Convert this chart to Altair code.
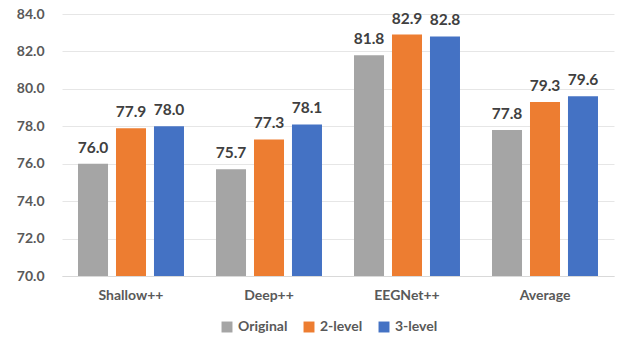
import altair as alt
import pandas as pd

categories = ["Shallow++", "Deep++", "EEGNet++", "Average"]
series = ["Original", "2-level", "3-level"]
original = [76.0, 75.7, 81.8, 77.8]
level2 = [77.9, 77.3, 82.9, 79.3]
level3 = [78.0, 78.1, 82.8, 79.6]
colors = ["#A5A5A5", "#ED7D31", "#4472C4"]
tick_values = [70, 72, 74, 76, 78, 80, 82, 84]
baseline_value = 70

rows = []
for i, c in enumerate(categories):
    for s, vals in zip(series, [original, level2, level3]):
        rows.append({"cat": c, "series": s, "value": vals[i], "label": f"{vals[i]:.1f}"})
df = pd.DataFrame(rows)

FONT = "Lato"

x = alt.X("cat:N", sort=categories, title=None,
          scale=alt.Scale(paddingInner=0.232, paddingOuter=0.116),
          axis=alt.Axis(labelAngle=0, labelFont=FONT, labelFontSize=14, labelFontWeight="bold",
                        labelColor="#595959", ticks=False, domainColor="#D9D9D9", domainWidth=1,
                        labelPadding=12, grid=False))
xo = alt.XOffset("series:N", sort=series, scale=alt.Scale(paddingInner=0.21, paddingOuter=0))
y = alt.Y("value:Q", title=None,
          scale=alt.Scale(domain=[70, 84], nice=False, zero=False),
          axis=alt.Axis(values=tick_values, format=".1f", tickCount=8,
                        labelFont=FONT, labelFontSize=14, labelFontWeight="bold",
                        labelColor="#595959", ticks=False, domain=False, labelPadding=18,
                        labelOverlap=False, gridColor="#E6E6E6", gridWidth=1))

bars = alt.Chart(df).mark_bar().encode(
    x=x, xOffset=xo, y=y, y2=alt.datum(baseline_value),
    color=alt.Color("series:N", sort=series,
                    scale=alt.Scale(domain=series, range=colors),
                    legend=alt.Legend(title=None, orient="none", direction="horizontal",
                                      legendX=158, legendY=306, symbolType="square",
                                      symbolSize=120, symbolStrokeWidth=0,
                                      labelFont=FONT, labelFontSize=14, labelFontWeight="bold",
                                      labelColor="#595959", columnPadding=14, labelOffset=4))
)

text = alt.Chart(df).mark_text(baseline="bottom", dy=-8, font=FONT, fontSize=15.5,
                               fontWeight="bold", color="#404040").encode(
    x=x, xOffset=xo, y=y, text="label:N"
)

chart = alt.layer(bars, text).properties(
    width=552, height=262,
    autosize=alt.AutoSizeParams(type="none"),
    padding={"left": 62, "top": 14, "right": 6, "bottom": 65},
    background="white"
).configure_view(stroke=None)

chart.save("out.html", embed_options={"renderer": "svg", "actions": False})
